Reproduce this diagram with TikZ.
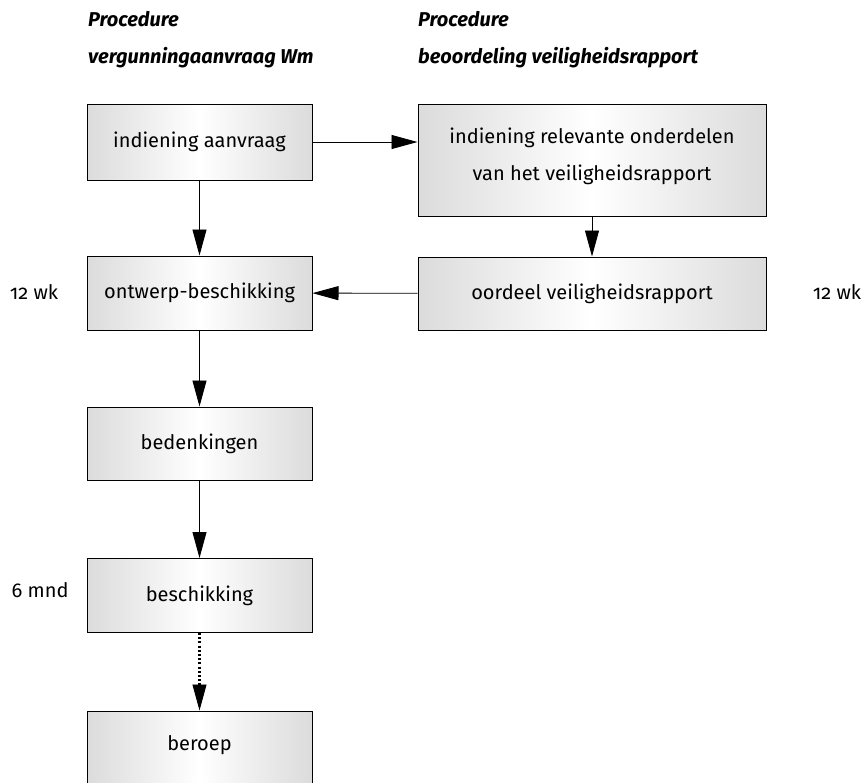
\documentclass[tikz,border=0pt]{standalone}
\usepackage{fontspec}
\setmainfont{Fira Sans}[Numbers=OldStyle]
\usetikzlibrary{arrows.meta}
\begin{document}
\begin{tikzpicture}[x=1pt,y=-1pt,
  box/.style={draw=black,line width=1pt,left color=gray!28,right color=gray!28,middle color=white,
    font=\fontsize{20}{37}\selectfont,align=center,inner sep=0pt},
  conn/.style={line width=0.9pt,-{Triangle[length=26pt,width=14pt]}},
  dotconn/.style={line width=2.4pt,dash pattern=on 2pt off 2.2pt,-{Triangle[length=26pt,width=14pt,line width=0.9pt]}},
  title/.style={font=\fontsize{20}{22}\selectfont\bfseries\itshape,anchor=west,inner sep=0pt},
  lab/.style={font=\fontsize{20}{22}\selectfont,inner sep=0pt}]
\useasboundingbox (0,0) rectangle (864,782);
\node[title] (t1) at (88,19) {Procedure};
\node[title] (t2) at (88,58) {vergunningaanvraag Wm};
\node[title] (t3) at (418,19) {Procedure};
\node[title] (t4) at (418,58) {beoordeling veiligheidsrapport};

\node[box,minimum width=225pt,minimum height=76pt] (a) at (199.5,142) {indiening aanvraag};
\node[box,minimum width=348pt,minimum height=112pt] (b) at (592,160.5) {};
\node[font=\fontsize{20}{37}\selectfont,align=center,inner sep=0pt] (btext) at (592,156) {indiening relevante onderdelen\\van het veiligheidsrapport};
\node[box,minimum width=225pt,minimum height=74pt] (c) at (199.5,293) {ontwerp-beschikking};
\node[box,minimum width=348pt,minimum height=73pt] (d) at (592,293.5) {oordeel veiligheidsrapport};
\node[box,minimum width=225pt,minimum height=73pt] (e) at (199.5,443.5) {bedenkingen};
\node[box,minimum width=225pt,minimum height=74pt] (f) at (199.5,595.5) {beschikking};
\node[box,minimum width=225pt,minimum height=80pt,text depth=0pt] (g) at (199.5,751) {};
\node[font=\fontsize{20}{22}\selectfont,inner sep=0pt] (gtext) at (199.5,745) {beroep};

\node[lab] (l1) at (34,292) {12 wk};
\node[lab] (l2) at (837,292) {12 wk};
\node[lab] (l3) at (40,590) {6 mnd};

\draw[conn] (a.east) -- (a.east -| b.west);
\draw[conn] (a) -- (c);
\draw[conn] (b.south -| d.north) -- (d.north);
\draw[conn] (d) -- (c);
\draw[conn] (c) -- (e);
\draw[conn] (e) -- (f);
\draw[dotconn] (f.south) -- (g.north);
\end{tikzpicture}
\end{document}
